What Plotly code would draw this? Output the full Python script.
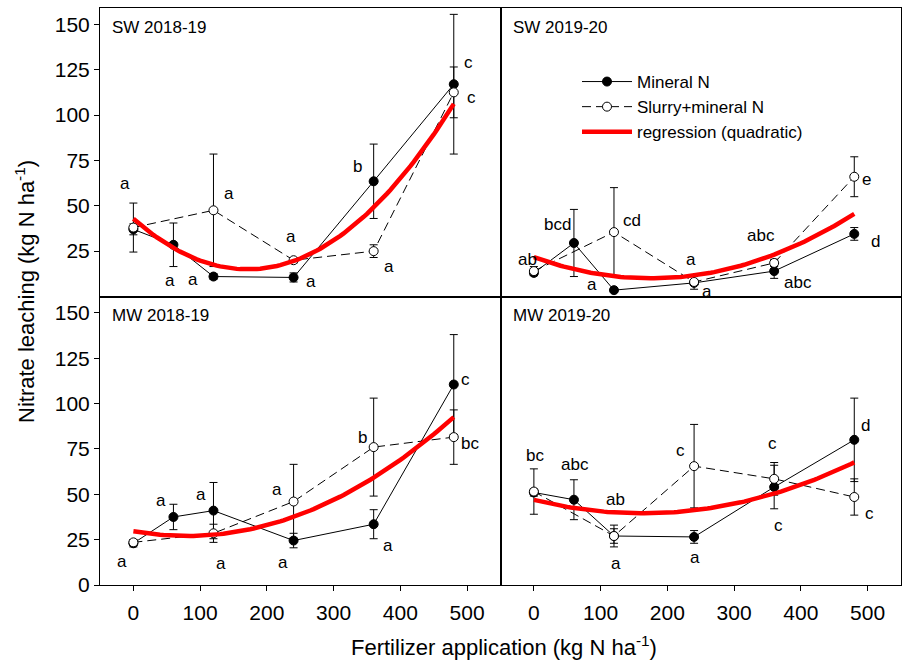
import numpy as np
import plotly.graph_objects as go
from plotly.subplots import make_subplots

# ---------------- data ----------------
x_mineral = [0, 60, 120, 240, 360, 480]
x_slurry = [0, 120, 240, 360, 480]

panel_names = ["SW 2018-19", "SW 2019-20", "MW 2018-19", "MW 2019-20"]

sw1819_min = [37, 28.5, 11, 10.5, 63.5, 117]
sw1819_min_err = [3, 12, 1.5, 2.5, 20.5, 38.5]
sw1819_slu = [38, 47.5, 20, 25, 112.5]
sw1819_slu_err = [13.5, 31, 1.5, 3.5, 14]

sw1920_min = [13, 29.5, 3.5, 7.5, 14, 34.5]
sw1920_min_err = [1.5, 18.5, 1, 3.5, 4, 3.5]
sw1920_slu = [14, 35.5, 8, 18.5, 66]
sw1920_slu_err = [2.5, 24.5, 1, 2, 11]

mw1819_min = [23, 37.5, 41, 24.5, 33.5, 110.5]
mw1819_min_err = [2, 7, 15.5, 4, 8, 27.5]
mw1819_slu = [23.5, 28.5, 46, 76, 81.5]
mw1819_slu_err = [1.5, 5, 20.5, 27, 15]

mw1920_min = [51, 47, 27, 26.5, 54, 80]
mw1920_min_err = [2, 11, 6, 3.5, 12, 23]
mw1920_slu = [51.5, 27, 65.5, 58.5, 48.5]
mw1920_slu_err = [12.5, 4, 23, 9, 10]

# quadratic regression coefficients y = a + b x + c x^2
reg_a = [42.9, 21.7, 29.6, 46.9]
reg_b = [-0.3266, -0.1337, -0.0652, -0.0908]
reg_c = [0.000955, 0.000382, 0.000409, 0.000279]

# significance letters (x, y, text)
letters_sw1819 = [(-12, 62.5, "a"), (55, 8.7, "a"), (89, 9.2, "a"), (143, 57, "a"),
                  (236, 33, "a"), (266, 8.3, "a"), (336, 71.7, "b"), (383, 16.5, "a"),
                  (502, 128.7, "c"), (506, 109.8, "c")]
letters_sw1920 = [(-9, 20.2, "ab"), (35, 39.5, "bcd"), (87, 6.5, "a"), (147, 42, "cd"),
                  (236, 20.2, "a"), (259, 3, "a"), (341, 33.5, "abc"), (395.5, 7.7, "abc"),
                  (497.6, 64.4, "e"), (512.5, 30.3, "d")]
letters_mw1819 = [(-17, 13, "a"), (42, 46.5, "a"), (102, 49.8, "a"), (132, 12, "a"),
                  (215, 52.8, "a"), (224, 12.5, "a"), (343, 81.4, "b"), (381, 21.7, "a"),
                  (498, 113, "c"), (505, 78.1, "bc")]
letters_mw1920 = [(1.5, 71.3, "bc"), (61, 66.4, "abc"), (123, 46.9, "ab"), (123, 12, "a"),
                  (220, 74.4, "c"), (242, 14.9, "a"), (357, 77.8, "c"), (367, 32.7, "c"),
                  (496.5, 87.9, "d"), (503.5, 39.2, "c")]

x_ticks = [0, 100, 200, 300, 400, 500]
y_ticks_top = [25, 50, 75, 100, 125, 150]
y_ticks_bottom = [0, 25, 50, 75, 100, 125, 150]

# ---------------- figure ----------------
FONT = "Liberation Sans, Arial, sans-serif"
fig = make_subplots(rows=2, cols=2, horizontal_spacing=0, vertical_spacing=0)

panels = [
    (1, 1, sw1819_min, sw1819_min_err, sw1819_slu, sw1819_slu_err, letters_sw1819),
    (1, 2, sw1920_min, sw1920_min_err, sw1920_slu, sw1920_slu_err, letters_sw1920),
    (2, 1, mw1819_min, mw1819_min_err, mw1819_slu, mw1819_slu_err, letters_mw1819),
    (2, 2, mw1920_min, mw1920_min_err, mw1920_slu, mw1920_slu_err, letters_mw1920),
]

for i, (r, c, ymin, emin, yslu, eslu, letters) in enumerate(panels):
    first = i == 1  # legend shown from the top-right panel
    fig.add_trace(go.Scatter(
        x=x_mineral, y=ymin, mode="lines+markers", name="Mineral N",
        line=dict(color="black", width=1),
        marker=dict(symbol="circle", size=9, color="black", line=dict(color="black", width=1)),
        error_y=dict(type="data", array=emin, visible=True, color="black", thickness=1, width=4),
        showlegend=first, legendrank=1), row=r, col=c)
    fig.add_trace(go.Scatter(
        x=x_slurry, y=yslu, mode="lines+markers", name="Slurry+mineral N",
        line=dict(color="black", width=1, dash="9px,5px"),
        marker=dict(symbol="circle", size=9, color="white", line=dict(color="black", width=1)),
        error_y=dict(type="data", array=eslu, visible=True, color="black", thickness=1, width=4),
        showlegend=first, legendrank=2), row=r, col=c)
    xr = np.linspace(0, 480, 97)
    yr = reg_a[i] + reg_b[i] * xr + reg_c[i] * xr ** 2
    fig.add_trace(go.Scatter(
        x=xr, y=yr, mode="lines", name="regression (quadratic)",
        line=dict(color="#ff0000", width=4.5),
        showlegend=first, legendrank=3), row=r, col=c)

    axn = "" if i == 0 else str(i + 1)
    for (lx, ly, lt) in letters:
        fig.add_annotation(x=lx, y=ly, text=lt, xref="x" + axn, yref="y" + axn,
                           showarrow=False, font=dict(size=17, color="black", family=FONT))
    fig.add_annotation(x=0, y=1, xref="x" + axn + " domain", yref="y" + axn + " domain",
                       text=panel_names[i], showarrow=False, xanchor="left", yanchor="middle",
                       xshift=10, yshift=-19, font=dict(size=17, color="black", family=FONT))

axis_common = dict(showline=True, mirror=True, linecolor="black", linewidth=1,
                   showgrid=False, zeroline=False)
for r in (1, 2):
    for c in (1, 2):
        bottom = r == 2
        left = c == 1
        fig.update_xaxes(range=[-50, 550], tickvals=x_ticks,
                         ticks="outside" if bottom else "", ticklen=5, tickcolor="black",
                         showticklabels=bottom, ticklabelstandoff=4,
                         tickfont=dict(size=21, color="black", family=FONT),
                         row=r, col=c, **axis_common)
        fig.update_yaxes(range=[0, 159], tickvals=y_ticks_bottom if bottom else y_ticks_top,
                         ticks="outside" if left else "", ticklen=5, tickcolor="black",
                         showticklabels=left, tickfont=dict(size=21, color="black", family=FONT),
                         row=r, col=c, **axis_common)

fig.add_annotation(text="Nitrate leaching (kg N ha<sup>-1</sup>)", xref="paper", yref="paper",
                   x=(25 - 100) / 801, y=1 - (292 - 8) / 577, textangle=-90, showarrow=False,
                   xanchor="center", yanchor="middle", font=dict(size=22, color="black", family=FONT))
fig.add_annotation(text="Fertilizer application (kg N ha<sup>-1</sup>)", xref="paper", yref="paper",
                   x=(504 - 100) / 801, y=1 - (646 - 8) / 577, showarrow=False,
                   xanchor="center", yanchor="middle", font=dict(size=22, color="black", family=FONT))

fig.update_layout(
    width=903, height=661,
    margin=dict(l=100, r=2, t=8, b=76),
    paper_bgcolor="white", plot_bgcolor="white",
    font=dict(family=FONT, color="black"),
    legend=dict(x=(577 - 100) / 801, y=1 - (64 - 8) / 577, xanchor="left", yanchor="top",
                bgcolor="rgba(0,0,0,0)", font=dict(size=17, color="black", family=FONT),
                itemwidth=50, tracegroupgap=0),
)

fig.write_html("out.html")
